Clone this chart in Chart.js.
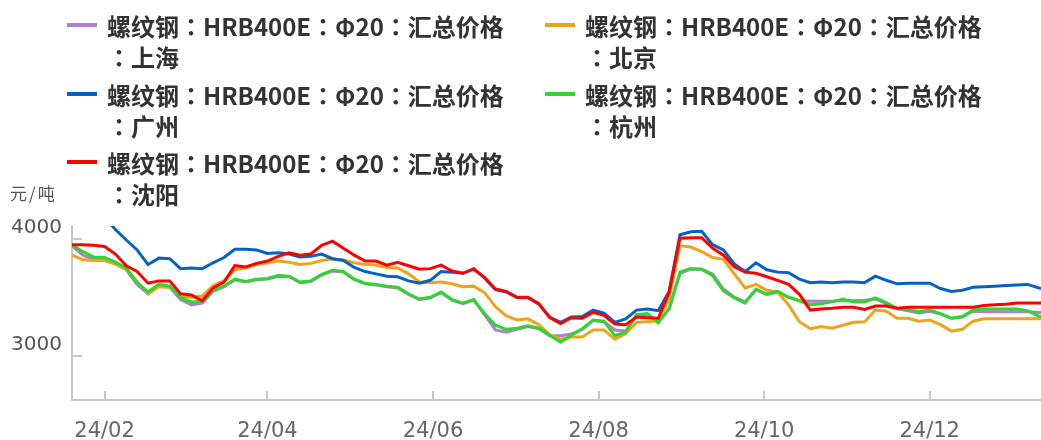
<!DOCTYPE html>
<html>
<head>
<meta charset="utf-8">
<script src="https://cdn.jsdelivr.net/npm/chart.js@4.4.1/dist/chart.umd.min.js"></script>
<style>
    body { margin: 0; background: #fff; }
    #wrap { position: relative; width: 1041px; height: 440px; overflow: hidden; }
    #priceChart { position: absolute; left: 0; top: 0; }
    .lg-item { position: absolute; width: 470px; height: 62px; }
    .lg-swatch { position: absolute; left: 0; top: 13px; width: 30px; height: 4px; }
    .lg-text { position: absolute; left: 40px; top: 0; font: bold 24px "Noto Sans CJK TC", sans-serif; line-height: 31px; color: #333; white-space: nowrap; }
    #unit { position: absolute; left: 10px; top: 180px; font: 17px "Noto Sans CJK SC", sans-serif; color: #555; letter-spacing: 2px; }
</style>
</head>
<body>
<div id="wrap">
    <canvas id="priceChart" width="1041" height="440"></canvas>
    <div id="legend"></div>
    <div id="unit">元/吨</div>
</div>
<script>
const dates = [
    '2024-01-20', '2024-01-24', '2024-01-28', '2024-02-01', '2024-02-05', '2024-02-09', '2024-02-13', '2024-02-17',
    '2024-02-21', '2024-02-25', '2024-02-29', '2024-03-04', '2024-03-08', '2024-03-12', '2024-03-16', '2024-03-20',
    '2024-03-24', '2024-03-28', '2024-04-01', '2024-04-05', '2024-04-09', '2024-04-13', '2024-04-17', '2024-04-21',
    '2024-04-25', '2024-04-29', '2024-05-03', '2024-05-07', '2024-05-11', '2024-05-15', '2024-05-19', '2024-05-23',
    '2024-05-27', '2024-05-31', '2024-06-04', '2024-06-08', '2024-06-12', '2024-06-16', '2024-06-20', '2024-06-24',
    '2024-06-28', '2024-07-02', '2024-07-06', '2024-07-10', '2024-07-14', '2024-07-18', '2024-07-22', '2024-07-26',
    '2024-07-30', '2024-08-03', '2024-08-07', '2024-08-11', '2024-08-15', '2024-08-19', '2024-08-23', '2024-08-27',
    '2024-08-31', '2024-09-04', '2024-09-08', '2024-09-12', '2024-09-16', '2024-09-20', '2024-09-24', '2024-09-28',
    '2024-10-02', '2024-10-06', '2024-10-10', '2024-10-14', '2024-10-18', '2024-10-22', '2024-10-26', '2024-10-30',
    '2024-11-03', '2024-11-07', '2024-11-11', '2024-11-15', '2024-11-19', '2024-11-23', '2024-11-27', '2024-12-01',
    '2024-12-05', '2024-12-09', '2024-12-13', '2024-12-17', '2024-12-21', '2024-12-25', '2024-12-29', '2025-01-02',
    '2025-01-06', '2025-01-11'
];

const tickDates = ['2024-02-01', '2024-04-01', '2024-06-01', '2024-08-01', '2024-10-01', '2024-12-01'];
const yTicks = [3000, 4000];

const seriesPrefix = '螺纹钢：HRB400E：Φ20：汇总价格';
const cities = ['上海', '北京', '广州', '杭州', '沈阳'];

const shanghai = [
    3940, 3860, 3825, 3820, 3785, 3735, 3610, 3530, 3600, 3585, 3480, 3435, 3450, 3550, 3590, 3650,
    3630, 3650, 3655, 3680, 3675, 3625, 3635, 3690, 3725, 3715, 3650, 3615, 3605, 3590, 3580, 3525,
    3480, 3495, 3540, 3475, 3445, 3475, 3350, 3220, 3200, 3225, 3250, 3230, 3170, 3170, 3185, 3225,
    3300, 3290, 3220, 3210, 3345, 3355, 3290, 3400, 3705, 3740, 3740, 3700, 3570, 3500, 3460, 3565,
    3525, 3545, 3500, 3470, 3465, 3465, 3465, 3475, 3470, 3475, 3485, 3445, 3400, 3385, 3365, 3380,
    3355, 3320, 3330, 3380, 3375, 3375, 3375, 3375, 3375, 3370
];
const beijing = [
    3860, 3820, 3815, 3815, 3785, 3740, 3635, 3530, 3590, 3585, 3505, 3500, 3510, 3600, 3640, 3735,
    3750, 3780, 3795, 3810, 3800, 3780, 3790, 3815, 3830, 3820, 3795, 3780, 3775, 3755, 3750, 3700,
    3630, 3625, 3630, 3615, 3590, 3595, 3540, 3420, 3340, 3305, 3315, 3265, 3180, 3140, 3160, 3160,
    3220, 3220, 3140, 3190, 3285, 3290, 3300, 3490, 3940, 3930, 3890, 3840, 3825, 3700, 3580, 3610,
    3560, 3545, 3435, 3290, 3230, 3250, 3235, 3260, 3285, 3290, 3390, 3380, 3320, 3320, 3295, 3305,
    3265, 3210, 3225, 3295, 3315, 3315, 3315, 3315, 3315, 3315
];
const guangzhou = [
    4350, 4300, 4240, 4185, 4080, 3990, 3905, 3780, 3835, 3830, 3745, 3750, 3745, 3795, 3840, 3910,
    3910, 3905, 3875, 3880, 3870, 3845, 3850, 3870, 3830, 3815, 3755, 3720, 3700, 3680, 3675, 3640,
    3620, 3645, 3720, 3715, 3705, 3745, 3665, 3565, 3545, 3495, 3495, 3440, 3330, 3285, 3330, 3335,
    3390, 3365, 3285, 3315, 3390, 3400, 3385, 3550, 4035, 4060, 4065, 3950, 3905, 3785, 3720, 3795,
    3735, 3715, 3710, 3655, 3625, 3630, 3625, 3630, 3630, 3625, 3680, 3645, 3615, 3620, 3620, 3620,
    3575, 3550, 3560, 3585, 3590, 3595, 3600, 3605, 3610, 3575
];
const hangzhou = [
    3950, 3890, 3845, 3840, 3800, 3750, 3625, 3545, 3610, 3595, 3495, 3460, 3465, 3560, 3595, 3655,
    3635, 3655, 3660, 3685, 3680, 3630, 3640, 3695, 3730, 3720, 3655, 3620, 3610, 3595, 3585, 3530,
    3485, 3500, 3545, 3480, 3450, 3480, 3360, 3260, 3225, 3235, 3255, 3235, 3175, 3115, 3175, 3230,
    3305, 3295, 3170, 3200, 3350, 3360, 3280, 3405, 3715, 3745, 3740, 3685, 3555, 3495, 3450, 3570,
    3525, 3550, 3500, 3470, 3435, 3445, 3460, 3485, 3460, 3460, 3495, 3455, 3405, 3395, 3375, 3390,
    3360, 3320, 3335, 3390, 3400, 3400, 3400, 3400, 3385, 3330
];
const shenyang = [
    3950, 3950, 3945, 3935, 3870, 3770, 3720, 3620, 3640, 3640, 3530, 3520, 3470, 3580, 3630, 3770,
    3760, 3790, 3810, 3850, 3880, 3860, 3870, 3945, 3980, 3920, 3860, 3810, 3810, 3775, 3800, 3770,
    3740, 3745, 3775, 3725, 3705, 3740, 3670, 3570, 3550, 3500, 3500, 3445, 3325, 3275, 3325, 3320,
    3370, 3345, 3270, 3265, 3330, 3325, 3320, 3545, 4005, 4010, 4010, 3920, 3860, 3760, 3715, 3705,
    3675, 3645, 3610, 3525, 3390, 3400, 3405, 3415, 3415, 3395, 3425, 3425, 3405, 3415, 3415, 3415,
    3415, 3415, 3415, 3415, 3430, 3435, 3440, 3450, 3450, 3450
];

const seriesValues = [shanghai, beijing, guangzhou, hangzhou, shenyang];
const seriesColors = ['#b27ec8', '#efa31c', '#0562c3', '#2fd62f', '#ff0000'];
const drawOrder = [4, 3, 2, 1, 0]; // 沈阳 on top

function toDay(s) {
    return Date.UTC(+s.slice(0, 4), +s.slice(5, 7) - 1, +s.slice(8, 10)) / 86400000;
}

function dayLabel(v) {
    const d = new Date(v * 86400000);
    const yy = String(d.getUTCFullYear()).slice(2);
    const mm = String(d.getUTCMonth() + 1).padStart(2, '0');
    return yy + '/' + mm;
}

// legend as html, two columns
const legendBox = document.getElementById('legend');
cities.forEach((city, i) => {
    const item = document.createElement('div');
    item.className = 'lg-item';
    item.style.left = (i % 2 === 0 ? 67 : 545) + 'px';
    item.style.top = (10 + Math.floor(i / 2) * 68.5) + 'px';
    item.innerHTML = `<span class="lg-swatch" style="background:${seriesColors[i]}"></span>` +
        `<div class="lg-text">${seriesPrefix}<br>：${city}</div>`;
    legendBox.appendChild(item);
});

const axisColor = '#c8c8c8';

// short tick marks pointing into the plot
const innerTicks = {
    id: 'innerTicks',
    afterDraw(chart) {
        const ctx = chart.ctx;
        const area = chart.chartArea;
        ctx.save();
        ctx.strokeStyle = axisColor;
        ctx.lineWidth = 2;
        ctx.beginPath();
        chart.scales.y.ticks.forEach(t => {
            const y = Math.round(chart.scales.y.getPixelForValue(t.value));
            ctx.moveTo(area.left, y);
            ctx.lineTo(area.left + 10, y);
        });
        chart.scales.x.ticks.forEach(t => {
            const x = Math.round(chart.scales.x.getPixelForValue(t.value));
            ctx.moveTo(x, area.bottom);
            ctx.lineTo(x, area.bottom - 9);
        });
        ctx.stroke();
        ctx.restore();
    }
};

const ctx = document.getElementById('priceChart').getContext('2d');
new Chart(ctx, {
    type: 'line',
    data: {
        datasets: cities.map((city, i) => ({
            label: seriesPrefix + '：' + city,
            data: dates.map((d, j) => ({ x: toDay(d), y: seriesValues[i][j] })),
            borderColor: seriesColors[i],
            backgroundColor: seriesColors[i],
            borderWidth: 3,
            pointRadius: 0,
            tension: 0,
            order: drawOrder[i]
        }))
    },
    options: {
        responsive: false,
        animation: false,
        layout: { padding: { top: 226, left: 0, right: 0, bottom: 0 } },
        plugins: {
            legend: { display: false },
            tooltip: { enabled: false }
        },
        scales: {
            x: {
                type: 'linear',
                min: toDay(dates[0]),
                max: toDay(dates[dates.length - 1]),
                afterBuildTicks: scale => { scale.ticks = tickDates.map(d => ({ value: toDay(d) })); },
                afterFit: scale => { scale.height = 40; },
                grid: { display: false, drawTicks: false },
                border: { display: true, color: axisColor, width: 2 },
                ticks: {
                    color: '#666',
                    font: { family: 'DejaVu Sans', size: 21 },
                    padding: 19,
                    maxRotation: 0,
                    callback: v => dayLabel(v)
                }
            },
            y: {
                min: 2620,
                max: 4110,
                afterBuildTicks: scale => { scale.ticks = yTicks.map(v => ({ value: v })); },
                afterFit: scale => { scale.width = 72; },
                grid: { display: false, drawTicks: false },
                border: { display: true, color: axisColor, width: 2 },
                ticks: {
                    color: '#555',
                    font: { family: 'DejaVu Sans', size: 20 },
                    padding: 10,
                    labelOffset: -11,
                    callback: v => String(v)
                }
            }
        }
    },
    plugins: [innerTicks]
});
</script>
</body>
</html>
